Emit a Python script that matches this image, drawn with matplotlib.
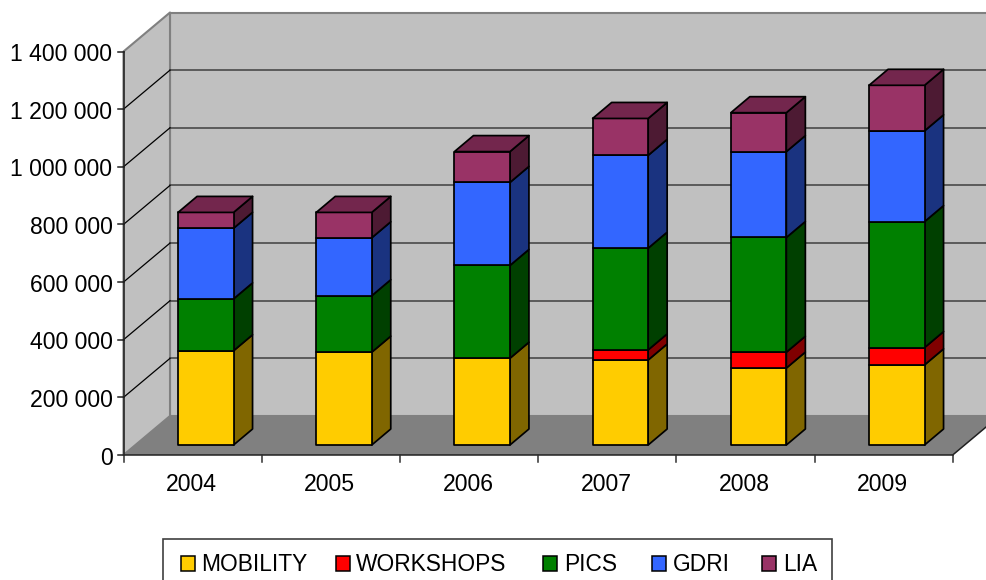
import matplotlib
matplotlib.use('Agg')
import matplotlib.pyplot as plt
from matplotlib.patches import Polygon, Rectangle

plt.rcParams['font.family'] = ['Liberation Sans', 'DejaVu Sans']

years = ['2004', '2005', '2006', '2007', '2008', '2009']
mobility = [327000, 322000, 301000, 295000, 267000, 278000]
workshops = [0, 0, 0, 35000, 55000, 60000]
pics = [180000, 196000, 322000, 353000, 398000, 437000]
gdri = [245000, 201000, 288000, 322000, 298000, 315000]
lia = [55000, 88000, 107000, 128000, 135000, 158000]
series = [mobility, workshops, pics, gdri, lia]
names = ['MOBILITY', 'WORKSHOPS', 'PICS', 'GDRI', 'LIA']
ticks = [0, 200000, 400000, 600000, 800000, 1000000, 1200000, 1400000]

front_cols = ['#FFCC00', '#FF0000', '#008000', '#3366FF', '#993366']
side_cols = ['#806600', '#800000', '#004000', '#1A3380', '#4D1A33']
top_cols = ['#BF9900', '#BF0000', '#006000', '#264DBF', '#73264D']

# oblique projection, everything below is in image pixels
x0, y0 = 123.5, 455.0
cat_w = 138.2
px_per_unit = 403.5 / 1400000
wall_dx, wall_dy = 46.5, 39.0
bar_w = 55.5
bar_shift_x, bar_shift_y = 13.2, 10.0
bar_dx, bar_dy = 19.0, 16.0


def vy(v):
    return y0 - v * px_per_unit


def poly(ax, pts, fc, ec='black', lw=1.25, z=3):
    ax.add_patch(Polygon(pts, closed=True, fc=fc, ec=ec, lw=lw, zorder=z, joinstyle='round'))


fig = plt.figure(figsize=(9.87, 5.8), dpi=100)
ax = fig.add_axes([0, 0, 1, 1])
ax.set_xlim(0, 987)
ax.set_ylim(580, 0)
ax.axis('off')

x_end = x0 + cat_w * len(years)
top = vy(ticks[-1])

# walls and floor
poly(ax, [(x0 + wall_dx, y0 - wall_dy), (x0 + wall_dx, top - wall_dy),
          (x_end + wall_dx, top - wall_dy), (x_end + wall_dx, y0 - wall_dy)],
     '#C0C0C0', ec='#808080', lw=1.5, z=1)
poly(ax, [(x0, y0), (x0, top), (x0 + wall_dx, top - wall_dy), (x0 + wall_dx, y0 - wall_dy)],
     '#C0C0C0', ec='#808080', lw=1.5, z=1)
poly(ax, [(x0, y0), (x0 + wall_dx, y0 - wall_dy), (x_end + wall_dx, y0 - wall_dy), (x_end, y0)],
     '#808080', ec='none', lw=0, z=1)

# gridlines
for t in ticks[1:]:
    y = vy(t)
    col = '#808080' if t == ticks[-1] else '#404040'
    ax.plot([x0 + wall_dx, x_end + wall_dx], [y - wall_dy, y - wall_dy], color=col, lw=1.1, zorder=2)
    if t != ticks[-1]:
        ax.plot([x0, x0 + wall_dx], [y, y - wall_dy], color='black', lw=0.9, zorder=2)

# axes and ticks
ax.plot([x0, x0], [y0, top], color='#202020', lw=1.1, zorder=2)
ax.plot([x0, x_end], [y0, y0], color='#202020', lw=1.1, zorder=2)
ax.plot([x_end, x_end + wall_dx], [y0, y0 - wall_dy], color='#202020', lw=1.1, zorder=2)
for t in ticks:
    ax.plot([x0 - 6, x0], [vy(t), vy(t)], color='#202020', lw=1.1, zorder=2)
    label = f'{t:,}'.replace(',', ' ')
    ax.text(x0 - 11, vy(t) + 9.6, label, ha='right', va='baseline', fontsize=16.6, color='black')
for i in range(len(years) + 1):
    tx = x0 + cat_w * i
    ax.plot([tx, tx], [y0, y0 + 6.5], color='#303030', lw=1.1, zorder=2)
for i, yr in enumerate(years):
    ax.text(x0 + cat_w * (i + 0.5) - 1, 491, yr, ha='center', va='baseline', fontsize=16.6, color='black')

# stacked bars
for i in range(len(years)):
    left = x0 + cat_w * (i + 0.5) + bar_shift_x - bar_w / 2
    right = left + bar_w
    bottom = 0
    for s, vals in enumerate(series):
        v = vals[i]
        if v == 0:
            continue
        y_low = vy(bottom) - bar_shift_y
        y_high = vy(bottom + v) - bar_shift_y
        poly(ax, [(right, y_low), (right + bar_dx, y_low - bar_dy),
                  (right + bar_dx, y_high - bar_dy), (right, y_high)], side_cols[s])
        poly(ax, [(left, y_low), (right, y_low), (right, y_high), (left, y_high)], front_cols[s])
        bottom += v
        last = s
    y_high = vy(bottom) - bar_shift_y
    poly(ax, [(left, y_high), (right, y_high), (right + bar_dx, y_high - bar_dy),
              (left + bar_dx, y_high - bar_dy)], top_cols[last])

# legend
ax.add_patch(Rectangle((162.5, 538.7), 669.5, 44, fc='white', ec='#404040', lw=1.2, zorder=4))
swatch_x = [180.7, 336, 543, 652, 762]
text_x = [201.5, 356, 564, 672.5, 783]
for s, name in enumerate(names):
    ax.add_patch(Rectangle((swatch_x[s], 556), 14, 14.5, fc=front_cols[s], ec='black', lw=1.1, zorder=5))
    ax.text(text_x[s], 571, name, ha='left', va='baseline', fontsize=16.4, color='black', zorder=5)

fig.savefig('out.png', dpi=100)
